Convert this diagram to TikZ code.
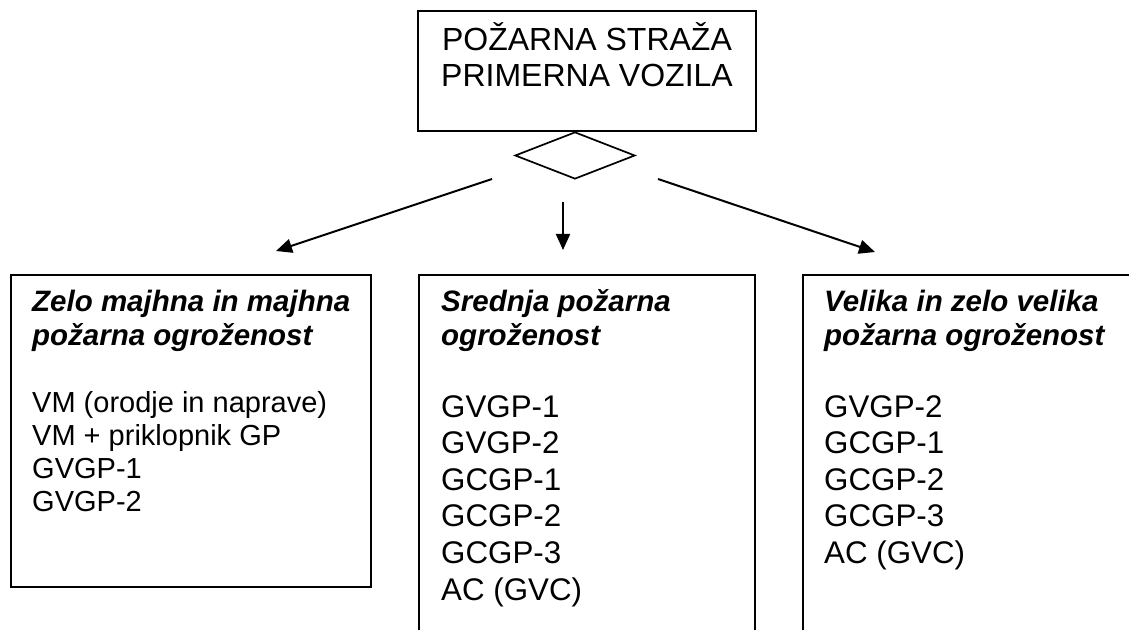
\documentclass[tikz,border=0pt]{standalone}
\usepackage{fontspec}
\setmainfont{Liberation Sans}
\usetikzlibrary{arrows.meta,shapes.geometric}
\begin{document}
\begin{tikzpicture}[x=1bp,y=-1bp,
  frame/.style={draw=black, line width=1.7bp, inner sep=0pt},
  conn/.style={line width=2bp, -{Triangle[length=16bp,width=14bp]}},
  ttl/.style={anchor=base west, inner sep=0pt, font=\fontsize{29.5bp}{33bp}\selectfont\bfseries\itshape},
  itemL/.style={anchor=base west, inner sep=0pt, font=\fontsize{29bp}{33bp}\selectfont},
  itemM/.style={anchor=base west, inner sep=0pt, font=\fontsize{31.3bp}{36.6bp}\selectfont},
  head/.style={anchor=base, inner sep=0pt, font=\fontsize{32bp}{36bp}\selectfont}]
\useasboundingbox (0,0) rectangle (1129,630);
\fill[white] (0,0) rectangle (1129,630);
\clip (0,0) rectangle (1129,630);

% top box and diamond
\node[frame, rectangle, minimum width=338bp, minimum height=120bp] (top) at (587,71) {};
\node[head] (h1) at (587,51) {POŽARNA STRAŽA};
\node[head] (h2) at (587,87) {PRIMERNA VOZILA};
\node[frame, diamond, minimum width=120bp, minimum height=47bp] (dia) at (575,155.5) {};

% category boxes
\node[frame, rectangle, minimum width=360bp, minimum height=312bp] (boxL) at (191,431) {};
\node[frame, rectangle, minimum width=336bp, minimum height=375bp] (boxM) at (587,462.5) {};
\node[frame, rectangle, minimum width=337bp, minimum height=375bp] (boxR) at (971.5,462.5) {};

% arrows
\coordinate (aL0) at (492,179); \coordinate (aL1) at (276,251);
\coordinate (aM0) at (563,202); \coordinate (aM1) at (563,250);
\coordinate (aR0) at (658,179); \coordinate (aR1) at (875,252);
\draw[conn] (aL0) -- (aL1);
\draw[conn] (aM0) -- (aM1);
\draw[conn] (aR0) -- (aR1);

% left box text
\node[ttl] (tL1) at (32,312) {Zelo majhna in majhna};
\node[ttl] (tL2) at (32,345) {požarna ogroženost};
\foreach \t [count=\i from 0] in {VM (orodje in naprave),VM + priklopnik GP,GVGP-1,GVGP-2}
  \node[itemL] (iL\i) at (32,412+33.3*\i) {\t};

% middle box text
\node[ttl] (tM1) at (441,312) {Srednja požarna};
\node[ttl] (tM2) at (441,345) {ogroženost};
\foreach \t [count=\i from 0] in {GVGP-1,GVGP-2,GCGP-1,GCGP-2,GCGP-3,AC (GVC)}
  \node[itemM] (iM\i) at (441,417+36.6*\i) {\t};

% right box text
\node[ttl] (tR1) at (824,312) {Velika in zelo velika};
\node[ttl] (tR2) at (824,345) {požarna ogroženost};
\foreach \t [count=\i from 0] in {GVGP-2,GCGP-1,GCGP-2,GCGP-3,AC (GVC)}
  \node[itemM] (iR\i) at (824,417+36.6*\i) {\t};
\end{tikzpicture}
\end{document}
